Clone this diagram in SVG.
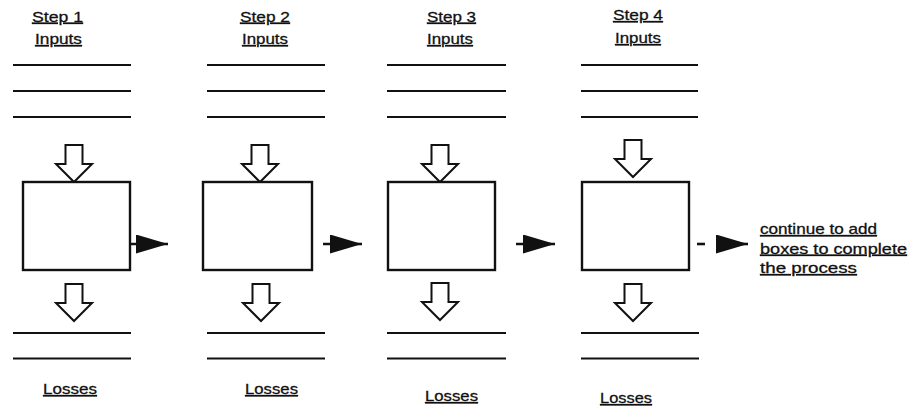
<svg xmlns="http://www.w3.org/2000/svg" width="915" height="406" viewBox="0 0 915 406">
<style>
  text { font-family: "Liberation Sans", Arial, sans-serif; font-size: 15px; fill: #111; stroke: #111; stroke-width: 0.3; text-decoration: underline; }
  .rule { stroke: #111; stroke-width: 2.2; fill: none; }
  .box { stroke: #111; stroke-width: 2.4; fill: #fff; }
  .darr { stroke: #111; stroke-width: 2; fill: #fff; stroke-linejoin: miter; }
  .conn { stroke: #111; stroke-width: 2.6; fill: none; }
</style>
<defs>
  <path id="downArrow" d="M-8.5,-37 H8.5 V-18 H18 L0,0 L-18,-18 H-8.5 Z" class="darr"/>
  <marker id="tri" viewBox="0 0 32 19" refX="32" refY="9.5" markerWidth="32" markerHeight="19" markerUnits="userSpaceOnUse" orient="auto">
    <path d="M0,0 L32,9.5 L0,19 Z" fill="#111"/>
  </marker>
</defs>
<rect width="915" height="406" fill="#fff"/>

<g id="step1">
  <text x="32" y="21.5" textLength="51" lengthAdjust="spacingAndGlyphs">Step 1</text>
  <text x="35" y="44" textLength="47" lengthAdjust="spacingAndGlyphs">Inputs</text>
  <path class="rule" d="M13,65 H131 M13,91 H131 M13,117 H131"/>
  <use href="#downArrow" x="74" y="182"/>
  <rect class="box" x="23" y="182" width="107" height="88"/>
  <use href="#downArrow" x="74" y="321"/>
  <path class="rule" d="M13,333 H131 M13,358.5 H131"/>
  <text x="43" y="394" textLength="54" lengthAdjust="spacingAndGlyphs">Losses</text>
</g>

<g id="step2">
  <text x="240" y="21.5" textLength="50" lengthAdjust="spacingAndGlyphs">Step 2</text>
  <text x="242" y="44" textLength="46" lengthAdjust="spacingAndGlyphs">Inputs</text>
  <path class="rule" d="M207,65 H325 M207,91 H325 M207,117 H325"/>
  <use href="#downArrow" x="260" y="182"/>
  <rect class="box" x="203" y="182" width="109" height="88"/>
  <use href="#downArrow" x="261" y="321"/>
  <path class="rule" d="M207,333 H325 M207,358.5 H325"/>
  <text x="245" y="394" textLength="53" lengthAdjust="spacingAndGlyphs">Losses</text>
</g>

<g id="step3">
  <text x="427" y="21.5" textLength="49" lengthAdjust="spacingAndGlyphs">Step 3</text>
  <text x="427" y="44" textLength="46" lengthAdjust="spacingAndGlyphs">Inputs</text>
  <path class="rule" d="M387,65 H506 M387,91 H506 M387,117 H506"/>
  <use href="#downArrow" x="440" y="182"/>
  <rect class="box" x="388" y="182" width="107" height="88"/>
  <use href="#downArrow" x="440" y="320"/>
  <path class="rule" d="M387,333 H506 M387,358.5 H506"/>
  <text x="425" y="401" textLength="53" lengthAdjust="spacingAndGlyphs">Losses</text>
</g>

<g id="step4">
  <text x="613" y="20" textLength="50" lengthAdjust="spacingAndGlyphs">Step 4</text>
  <text x="615" y="43" textLength="46" lengthAdjust="spacingAndGlyphs">Inputs</text>
  <path class="rule" d="M581,65 H698 M581,91 H698 M581,117 H698"/>
  <use href="#downArrow" x="633" y="177"/>
  <rect class="box" x="582" y="182" width="107" height="88"/>
  <use href="#downArrow" x="633" y="321"/>
  <path class="rule" d="M581,333 H699 M581,358.5 H699"/>
  <text x="600" y="403" textLength="52" lengthAdjust="spacingAndGlyphs">Losses</text>
</g>

<g id="note">
  <text x="760" y="234" textLength="117" lengthAdjust="spacingAndGlyphs">continue to add</text>
  <text x="760" y="253.5" textLength="147" lengthAdjust="spacingAndGlyphs">boxes to complete</text>
  <text x="760" y="273" textLength="97" lengthAdjust="spacingAndGlyphs">the process</text>
</g>

<g id="connectors">
  <path class="conn" d="M130,244 H168" marker-end="url(#tri)"/>
  <path class="conn" d="M323,244 H362" marker-end="url(#tri)"/>
  <path class="conn" d="M516,244 H555" marker-end="url(#tri)"/>
  <path class="conn" d="M697,244 H705"/>
  <path class="conn" d="M717,244 H748" marker-end="url(#tri)"/>
</g>
</svg>
